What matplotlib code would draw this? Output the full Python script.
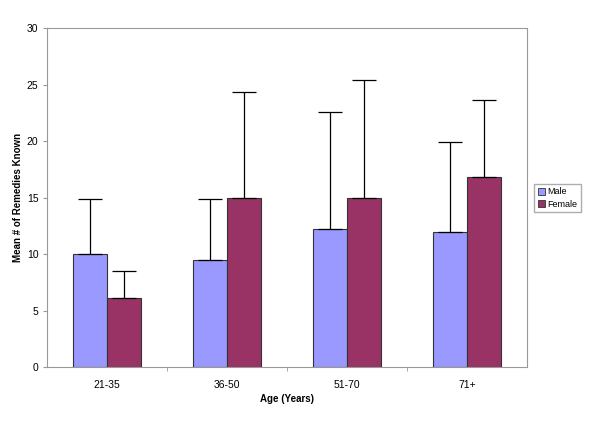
import numpy as np
import matplotlib.pyplot as plt
from matplotlib.patches import Patch

plt.rcParams['font.family'] = ['Liberation Sans', 'DejaVu Sans']

ages = ['21-35', '36-50', '51-70', '71+']
male = [10.0, 9.5, 12.2, 12.0]
female = [6.1, 15.0, 15.0, 16.8]
male_err = [4.9, 5.4, 10.4, 7.9]
female_err = [2.4, 9.3, 10.4, 6.8]

male_color = '#9999FF'
female_color = '#993366'

fig = plt.figure(figsize=(6, 4.24), dpi=100)
ax = fig.add_axes([0.078, 0.134, 0.8, 0.8])

x = np.arange(len(ages))
w = 0.283
err_kw = dict(ecolor='black', elinewidth=0.9, capsize=8.5, capthick=0.9)
ax.bar(x - w / 2, male, w, color=male_color, edgecolor='#333333', linewidth=0.8,
       yerr=[np.zeros(4), male_err], error_kw=err_kw, label='Male')
ax.bar(x + w / 2, female, w, color=female_color, edgecolor='#333333', linewidth=0.8,
       yerr=[np.zeros(4), female_err], error_kw=err_kw, label='Female')

ax.set_xlim(-0.5, 3.5)
ax.set_ylim(0, 30)
ax.set_yticks(range(0, 31, 5))
ax.set_xticks(x)
ax.set_xticklabels(ages)
ax.set_xticks(np.arange(0.5, 3.5, 1), minor=True)
ax.tick_params(axis='x', which='major', length=0, labelsize=7.5, pad=9)
ax.tick_params(axis='x', which='minor', length=3, color='#999999')
ax.tick_params(axis='y', length=3, color='#999999', labelsize=7.5, pad=3)

for s in ax.spines.values():
    s.set_color('#999999')
    s.set_linewidth(0.8)

fig.text(0.478, 0.059, 'Age (Years)', fontsize=7, fontweight='bold', ha='center', va='center')
fig.text(0.03, 0.534, 'Mean # of Remedies Known', fontsize=7, fontweight='bold',
         rotation=90, ha='center', va='center')

handles = [Patch(facecolor=male_color, edgecolor='#333333', linewidth=0.6),
           Patch(facecolor=female_color, edgecolor='#333333', linewidth=0.6)]
fig.legend(handles, ['Male', 'Female'], loc='center left', bbox_to_anchor=(0.89, 0.533),
           borderaxespad=0, fontsize=6.5, frameon=True, fancybox=False, edgecolor='#999999',
           handlelength=0.8, handleheight=0.8, handletextpad=0.3, borderpad=0.4,
           labelspacing=0.35)

plt.savefig('out.png', dpi=100)
